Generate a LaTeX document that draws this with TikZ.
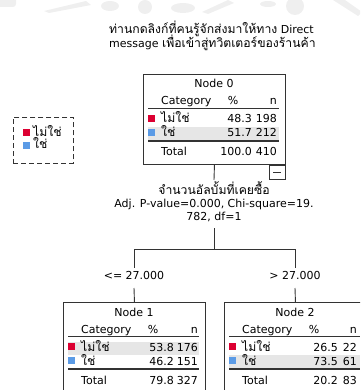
\documentclass[tikz,border=0pt]{standalone}
\usepackage{fontspec}
\setmainfont{DejaVu Sans}
\newfontfamily\thai[Script=Thai]{Loma}

\definecolor{catred}{HTML}{DC0032}
\definecolor{catblue}{HTML}{5B9BE6}
\definecolor{bandgray}{HTML}{E6E6E6}
\definecolor{markgray}{HTML}{EFEFEF}
\definecolor{inkgray}{HTML}{333333}

\newcommand\thaisize{\fontsize{12.2}{13}\selectfont\thai}

\tikzset{
  every node/.style={inner sep=0pt, text=black, font=\fontsize{11}{12}\selectfont},
  thaitext/.style={font=\thaisize},
  treebox/.style={draw=inkgray, line width=0.9pt, minimum width=142pt,
    minimum height=90pt, anchor=north west, inner sep=0pt},
  rulethin/.style={draw=inkgray, line width=0.8pt},
  rulethick/.style={draw=inkgray, line width=1.6pt},
  conn/.style={draw=inkgray, line width=0.9pt},
  swatch/.style={minimum width=6.5pt, minimum height=6.5pt, anchor=north west, inner sep=0pt},
  legendbox/.style={draw=inkgray, line width=0.9pt, dash pattern=on 5pt off 3pt}
}

% #1 name, #2 left, #3 top, #4 number, #5 % column right offset,
% #6 n column right offset, #7 highlighted row, #8 {p1}{n1}{p2}{n2}{pt}{nt}
\newcommand\treenode[8]{%
  \def\tnL{#2}\def\tnT{#3}\def\tnP{#5}\def\tnN{#6}\def\tnName{#1}%
  \ifnum#7=1
    \fill[bandgray] (#2+5,#3+40) rectangle (#2+136,#3+53);
  \else
    \fill[bandgray] (#2+5,#3+53) rectangle (#2+136,#3+66);
  \fi
  \node[treebox] (#1) at (#2,#3) {};
  \node[anchor=base] (#1-title) at (#2+71,#3+14) {Node #4};
  \node[anchor=base west] (#1-cat) at (#2+18,#3+31) {Category};
  \node[anchor=base] (#1-pcth) at (#2+90,#3+31) {\%};
  \node[anchor=base east] (#1-nh) at (#2+#6,#3+31) {n};
  \draw[rulethin] (#2+5,#3+34.5) -- (#2+136,#3+34.5);
  \draw[rulethick] (#2+5,#3+67) -- (#2+136,#3+67);
  \node[swatch, fill=catred] (#1-sw1) at (#2+5,#3+41) {};
  \node[swatch, fill=catblue] (#1-sw2) at (#2+5,#3+55) {};
  \node[thaitext, anchor=base west] (#1-lab1) at (#2+18,#3+49) {ไม่ใช่};
  \node[thaitext, anchor=base west] (#1-lab2) at (#2+18,#3+63) {ใช่};
  \node[anchor=base west] (#1-tot) at (#2+18,#3+82) {Total};
  \treevals#8%
}
\newcommand\treevals[6]{%
  \node[anchor=base east] (\tnName-p1) at (\tnL+\tnP,\tnT+49) {#1};
  \node[anchor=base east] (\tnName-n1) at (\tnL+\tnN,\tnT+49) {#2};
  \node[anchor=base east] (\tnName-p2) at (\tnL+\tnP,\tnT+63) {#3};
  \node[anchor=base east] (\tnName-n2) at (\tnL+\tnN,\tnT+63) {#4};
  \node[anchor=base east] (\tnName-pt) at (\tnL+\tnP,\tnT+82) {#5};
  \node[anchor=base east] (\tnName-nt) at (\tnL+\tnN,\tnT+82) {#6};
}

\begin{document}
\begin{tikzpicture}[x=1pt,y=-1pt]
\useasboundingbox (0,0) rectangle (360,390);
\clip (0,0) rectangle (360,390);

% faint marks along the top edge
\begin{scope}[markgray]
  \fill[rounded corners=3pt] (-4,-4) rectangle (16,7);
  \fill (44,11) -- (86,1) -- (91,5) -- (49,13) -- cycle;
  \fill (110,6) ellipse [x radius=9, y radius=5];
  \fill (145,7) circle [radius=7];
  \fill (183,8) ellipse [x radius=12, y radius=5];
  \fill (202,12) -- (228,0) -- (234,3) -- (208,14) -- cycle;
  \fill (268,4) ellipse [x radius=8, y radius=3];
  \fill (295,6) circle [radius=9];
  \fill (333,0) -- (345,0) -- (362,12) -- (358,16) -- cycle;
\end{scope}

% target variable, two left-aligned lines (baseline on the last line)
\node[anchor=base west] (head) at (109,48)
  {\begin{tabular}[b]{@{}l@{}}
   {\thaisize ท่านกดลิงก์ที่คนรู้จักส่งมาให้ทาง} Direct\\[-2pt]
   message {\thaisize เพื่อเข้าสู่ทวิตเตอร์ของร้านค้า}
   \end{tabular}};

% legend
\node[legendbox, minimum width=60pt, minimum height=46pt, anchor=north west] (legend) at (13,117) {};
\node[swatch, fill=catred] (leg-sw1) at (23,129) {};
\node[swatch, fill=catblue] (leg-sw2) at (23,142) {};
\node[thaitext, anchor=base west] (leg-lab1) at (33,136) {ไม่ใช่};
\node[thaitext, anchor=base west] (leg-lab2) at (33,149) {ใช่};

% tree nodes
\treenode{n0}{143}{74}{0}{109}{134}{2}{{48.3}{198}{51.7}{212}{100.0}{410}}
\treenode{n1}{63}{302}{1}{111}{135}{1}{{53.8}{176}{46.2}{151}{79.8}{327}}
\treenode{n2}{224}{302}{2}{114}{133}{2}{{26.5}{22}{73.5}{61}{20.2}{83}}

% collapse toggle
\node[draw=inkgray, line width=0.9pt, minimum width=16pt, minimum height=14.5pt,
  anchor=north east] (n0-toggle) at (n0.south east) {};
\draw[inkgray, line width=0.9pt] ([xshift=-4pt]n0-toggle.center) -- ([xshift=4pt]n0-toggle.center);

% split description
\node[thaitext, anchor=base] (split-var) at (214,194) {จำนวนอัลบั้มที่เคยซื้อ};
\node[anchor=base] (split-stat) at (214,207) {Adj. P-value=0.000, Chi-square=19.};
\node[anchor=base] (split-df) at (214,220) {782, df=1};

% branch labels
\node[anchor=base] (br1) at (134,279) {<= 27.000};
\node[anchor=base] (br2) at (295,279) {> 27.000};

% connectors
\coordinate (split-top) at (214,180);
\coordinate (split-bot) at (214,228);
\coordinate (fork) at (214,249);
\coordinate (br1-top) at (134,268);
\coordinate (br2-top) at (295,268);
\coordinate (br1-bot) at (134,288);
\coordinate (br2-bot) at (295,288);
\draw[conn] (n0.south) -- (split-top);
\draw[conn] (split-bot) -- (fork);
\draw[conn] (fork) -| (br1-top);
\draw[conn] (fork) -| (br2-top);
\draw[conn] (br1-bot) -- (n1.north);
\draw[conn] (br2-bot) -- (n2.north);
\end{tikzpicture}
\end{document}
